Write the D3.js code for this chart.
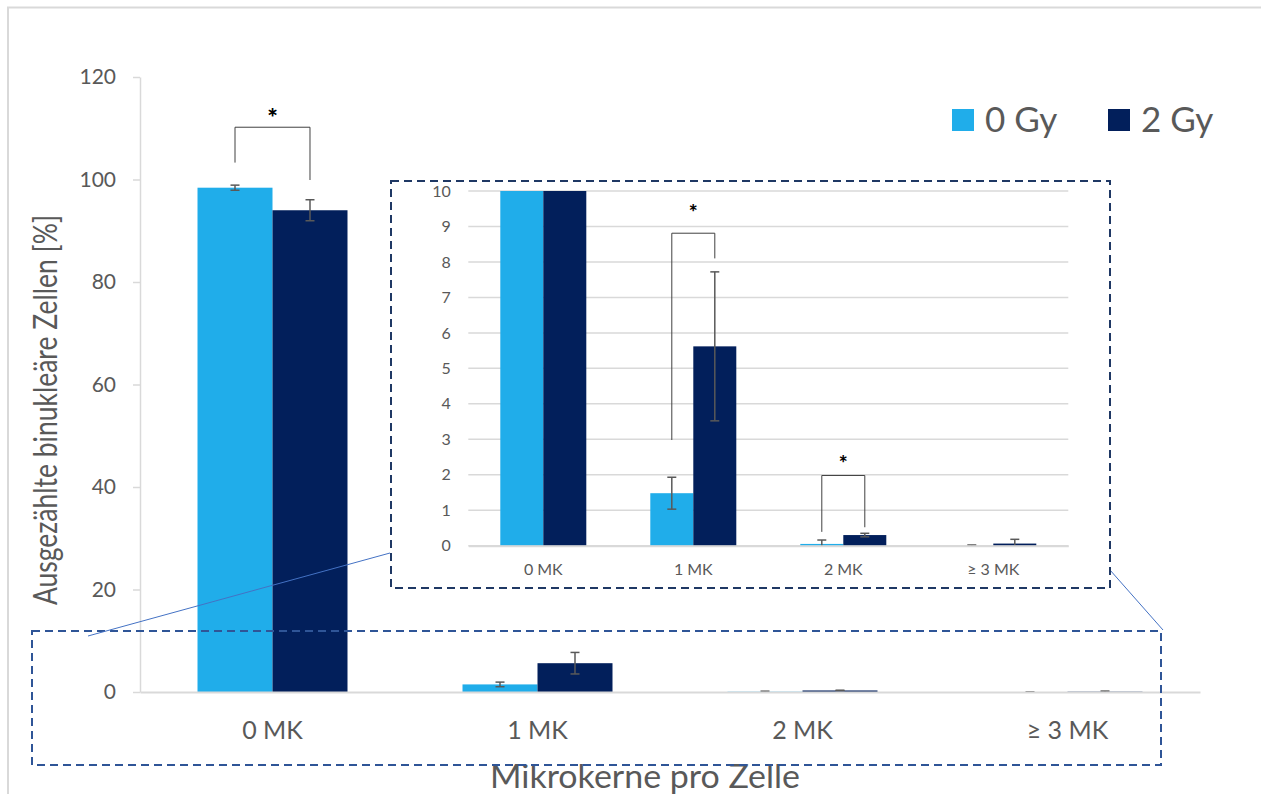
<!DOCTYPE html>
<html>
<head>
<meta charset="utf-8">
<script src="https://cdn.jsdelivr.net/npm/d3@7"></script>
<style>
  html, body { margin: 0; padding: 0; background: #fff; }
  svg { display: block; font-family: Lato, "Open Sans", sans-serif; }
</style>
</head>
<body>
<svg id="chart" width="1261" height="794"></svg>
<script>
// Categories and series
const categories = ["0 MK", "1 MK", "2 MK", "≥ 3 MK"];
const seriesNames = ["0 Gy", "2 Gy"];
const seriesColors = ["#20adea", "#021f5b"];

// Mean share of binucleated cells [%] and their error (±)
const values0Gy = [98.4, 1.48, 0.05, 0.0];
const values2Gy = [94.0, 5.62, 0.30, 0.06];
const errors0Gy = [0.5, 0.45, 0.11, 0.02];
const errors2Gy = [2.05, 2.1, 0.05, 0.12];

// Axis ticks
const mainTicks = [0, 20, 40, 60, 80, 100, 120];
const insetTicks = [0, 1, 2, 3, 4, 5, 6, 7, 8, 9, 10];

// Significance brackets (values in axis units)
const mainBrackets = [
  { cat: "0 MK", left: 103.3, right: 99.9, top: 110.2, star: 112.8 }
];
const insetBrackets = [
  { cat: "1 MK", left: 2.98, right: 8.1, top: 8.81, star: 9.5 },
  { cat: "2 MK", left: 0.39, right: 0.52, top: 1.98, star: 2.42 }
];

const rows = categories.map((c, i) => ({
  cat: c,
  bars: [
    { s: seriesNames[0], v: values0Gy[i], e: errors0Gy[i], color: seriesColors[0] },
    { s: seriesNames[1], v: values2Gy[i], e: errors2Gy[i], color: seriesColors[1] }
  ]
}));

const svg = d3.select("#chart");
const textGray = "#595959";
const lineGray = "#d9d9d9";

// Outer chart frame
svg.append("rect")
  .attr("x", 8).attr("y", 7.5).attr("width", 1400).attr("height", 900)
  .attr("fill", "none").attr("stroke", lineGray).attr("stroke-width", 2);

// Draw a grouped bar panel with error bars and brackets
function drawPanel(g, opt) {
  const x = d3.scaleBand().domain(categories).range(opt.xRange)
    .paddingInner(opt.pad).paddingOuter(opt.pad / 2);
  const xs = d3.scaleBand().domain(seriesNames).range([0, x.bandwidth()]);
  const y = d3.scaleLinear().domain(opt.yDomain).range(opt.yRange).clamp(true);

  if (opt.grid) {
    g.append("g").selectAll("line").data(opt.ticks).join("line")
      .attr("x1", opt.xRange[0]).attr("x2", opt.xRange[1])
      .attr("y1", d => y(d)).attr("y2", d => y(d))
      .attr("stroke", lineGray).attr("stroke-width", 1.5);
  }

  // y axis
  const yAxis = d3.axisLeft(y).tickValues(opt.ticks)
    .tickSize(opt.grid ? 0 : 7).tickSizeOuter(0).tickPadding(opt.yPad);
  const ya = g.append("g").attr("transform", `translate(${opt.xRange[0]},0)`).call(yAxis);
  ya.select(".domain").attr("stroke", opt.grid ? "none" : lineGray).attr("stroke-width", 1.5);
  ya.selectAll(".tick line").attr("stroke", lineGray).attr("stroke-width", 1.5);
  ya.selectAll(".tick text").attr("fill", textGray)
    .style("font-size", opt.yFont + "px").style("font-family", "Lato");

  // bars
  const grp = g.append("g").selectAll("g").data(rows).join("g")
    .attr("transform", d => `translate(${x(d.cat)},0)`);
  grp.selectAll("rect").data(d => d.bars).join("rect")
    .attr("x", d => xs(d.s)).attr("width", xs.bandwidth())
    .attr("y", d => y(d.v)).attr("height", d => y(0) - y(d.v))
    .attr("fill", d => d.color);

  // x axis line and labels
  const xAxis = d3.axisBottom(x).tickSize(0).tickPadding(opt.xPad);
  const xa = g.append("g").attr("transform", `translate(0,${y(0)})`).call(xAxis);
  xa.select(".domain").attr("stroke", lineGray).attr("stroke-width", 2);
  xa.selectAll(".tick text").attr("fill", textGray)
    .style("font-size", opt.xFont + "px").style("font-family", "Lato");

  // error bars
  const eb = grp.selectAll("g.err").data(d => d.bars.filter(b => opt.showErr(b))).join("g")
    .attr("class", "err")
    .attr("stroke", textGray).attr("stroke-width", 1.5);
  const cx = d => xs(d.s) + xs.bandwidth() / 2;
  const yr = d3.scaleLinear().domain(opt.yDomain).range(opt.yRange);
  eb.append("line").attr("x1", cx).attr("x2", cx)
    .attr("y1", d => yr(d.v + d.e)).attr("y2", d => Math.min(yr(d.v - d.e), yr(0)));
  eb.append("line").attr("x1", d => cx(d) - 4.5).attr("x2", d => cx(d) + 4.5)
    .attr("y1", d => yr(d.v + d.e)).attr("y2", d => yr(d.v + d.e));
  eb.filter(d => d.v - d.e >= 0).append("line")
    .attr("x1", d => cx(d) - 4.5).attr("x2", d => cx(d) + 4.5)
    .attr("y1", d => yr(d.v - d.e)).attr("y2", d => yr(d.v - d.e));

  // significance brackets
  const bg = g.append("g").selectAll("g").data(opt.brackets).join("g");
  const lx = d => x(d.cat) + xs(seriesNames[0]) + xs.bandwidth() / 2;
  const rx = d => x(d.cat) + xs(seriesNames[1]) + xs.bandwidth() / 2;
  bg.append("path")
    .attr("d", d => `M${lx(d)},${yr(d.left)}V${yr(d.top)}H${rx(d)}V${yr(d.right)}`)
    .attr("fill", "none").attr("stroke", "#404040").attr("stroke-width", 1);
  bg.append("text")
    .attr("x", d => (lx(d) + rx(d)) / 2).attr("y", d => yr(d.star) + opt.starOff)
    .attr("text-anchor", "middle").attr("fill", "#000")
    .style("font-weight", "900").style("font-size", opt.starFont + "px")
    .text("*");
  return { x, y };
}

// Main chart
const main = svg.append("g");
drawPanel(main, {
  xRange: [140, 1200], pad: 0.434, yDomain: [0, 120], yRange: [692, 77],
  ticks: mainTicks, grid: false, yPad: 17, yFont: 21, xPad: 29, xFont: 25,
  brackets: mainBrackets, starOff: 13, starFont: 25,
  showErr: b => true
});

// Axis titles
svg.append("text")
  .attr("transform", "translate(57,410) rotate(-90)")
  .attr("text-anchor", "middle").attr("fill", textGray)
  .attr("textLength", 390).attr("lengthAdjust", "spacingAndGlyphs")
  .style("font-size", "33px")
  .text("Ausgezählte binukleäre Zellen [%]");
svg.append("text")
  .attr("x", 645).attr("y", 788)
  .attr("text-anchor", "middle").attr("fill", textGray)
  .attr("textLength", 310).attr("lengthAdjust", "spacingAndGlyphs")
  .style("font-size", "32px")
  .text("Mikrokerne pro Zelle");

// Highlight box around the low values and its connectors to the zoomed panel
svg.append("rect")
  .attr("x", 32).attr("y", 631).attr("width", 1129).attr("height", 134)
  .attr("fill", "none").attr("stroke", "#2f5597").attr("stroke-width", 2)
  .attr("stroke-dasharray", "8,5");
svg.append("line").attr("x1", 88).attr("y1", 636).attr("x2", 390).attr("y2", 553)
  .attr("stroke", "#4472c4").attr("stroke-width", 1);
svg.append("line").attr("x1", 1110).attr("y1", 570).attr("x2", 1163).attr("y2", 630)
  .attr("stroke", "#4472c4").attr("stroke-width", 1);

// Zoomed panel (0–10 %)
const inset = svg.append("g");
inset.append("rect")
  .attr("x", 391).attr("y", 181).attr("width", 719).attr("height", 407)
  .attr("fill", "#fff");
drawPanel(inset, {
  xRange: [468.3, 1068.3], pad: 0.4267, yDomain: [0, 10], yRange: [545.7, 191],
  ticks: insetTicks, grid: true, yPad: 17.6, yFont: 16, xPad: 18, xFont: 16,
  brackets: insetBrackets, starOff: 11, starFont: 21,
  showErr: b => b.v < 10
});
inset.append("rect")
  .attr("x", 391).attr("y", 181).attr("width", 719).attr("height", 407)
  .attr("fill", "none").attr("stroke", "#1f3864").attr("stroke-width", 2)
  .attr("stroke-dasharray", "8,5");

// Legend
const legend = svg.append("g");
const legendX = [952, 1108];
seriesNames.forEach((s, i) => {
  legend.append("rect")
    .attr("x", legendX[i]).attr("y", 109).attr("width", 22).attr("height", 22)
    .attr("fill", seriesColors[i]);
  legend.append("text")
    .attr("x", legendX[i] + 33).attr("y", 132)
    .attr("fill", textGray).style("font-size", "35px")
    .text(s);
});
</script>
</body>
</html>
